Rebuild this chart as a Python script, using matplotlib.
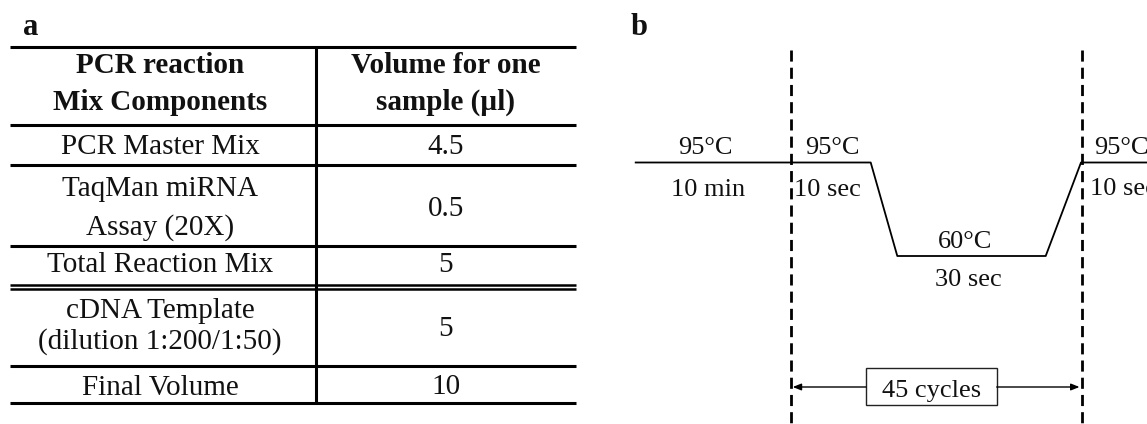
import matplotlib
matplotlib.use("Agg")
import matplotlib.pyplot as plt
from matplotlib.patches import Rectangle

plt.rcParams['font.family'] = ['Liberation Serif', 'DejaVu Serif']

# ---------------- data ----------------
# (a) qPCR reaction mix
header_left = ["PCR reaction", "Mix Components"]
header_right = ["Volume for one", "sample (\u00b5l)"]
row_labels = [
    ["PCR Master Mix"],
    ["TaqMan miRNA", "Assay (20X)"],
    ["Total Reaction Mix"],
    ["cDNA Template", "(dilution 1:200/1:50)"],
    ["Final Volume"],
]
row_volumes = ["4.5", "0.5", "5", "5", "10"]

# (b) thermal cycling protocol
step_temps = [95, 95, 60, 95]              # deg C
step_times = ["10 min", "10 sec", "30 sec", "10 sec"]
n_cycles = 45

# ---------------- figure ----------------
W, H = 1147, 424
fig = plt.figure(figsize=(W / 100, H / 100), dpi=100)
ax = fig.add_axes([0, 0, 1, 1])
ax.set_xlim(0, W)
ax.set_ylim(H, 0)
ax.axis("off")

INK = "#111111"
TFS = 21      # table font size
BFS = 19      # protocol font size

# ---- panel a: table ----
ax.text(23, 35, "a", fontsize=22, fontweight="bold", ha="left", va="baseline", color=INK)

x_left, x_div, x_right = 10, 316, 576
c1 = 160
c2 = 446
rule_lw = 2.2

rules = [46.7, 124.7, 165.0, 245.5, 366.2, 402.8]
for y in rules:
    ax.plot([x_left, x_right], [y, y], color="black", lw=rule_lw, solid_capstyle="butt")
# double rule after the reaction-mix block
for y in (284.6, 289.4):
    ax.plot([x_left, x_right], [y, y], color="black", lw=1.8, solid_capstyle="butt")
ax.plot([x_div, x_div], [rules[0], rules[-1]], color="black", lw=rule_lw, solid_capstyle="butt")

header_base = [73.0, 110.0]
for line_l, line_r, yb in zip(header_left, header_right, header_base):
    ax.text(c1, yb, line_l, fontsize=TFS, fontweight="bold", ha="center", va="baseline", color=INK)
    ax.text(c2, yb, line_r, fontsize=TFS, fontweight="bold", ha="center", va="baseline", color=INK)

label_base = [[154.0], [195.5, 234.5], [272.5], [318.5, 349.0], [395.0]]
value_base = [154.0, 215.5, 272.5, 336.0, 394.5]
for lines, ybs, val, yv in zip(row_labels, label_base, row_volumes, value_base):
    for line, yb in zip(lines, ybs):
        ax.text(c1, yb, line, fontsize=TFS, ha="center", va="baseline", color=INK)
    ax.text(c2, yv, val, fontsize=TFS, ha="center", va="baseline", color=INK)

# ---- panel b: thermal profile ----
ax.text(631, 35, "b", fontsize=22, fontweight="bold", ha="left", va="baseline", color=INK)

cyc_start, cyc_end = 790.7, 1081.5
for xd in (cyc_start, cyc_end):
    ax.plot([xd, xd], [50, H], color="black", lw=2.0, linestyle=(0, (4.0, 2.2)))

# temperature axis: 95 C sits at y=162.5 px, 60 C at y=256 px
px_per_deg = (256.0 - 162.5) / (95 - 60)
t_top = 95 + 162.5 / px_per_deg
t_bot = 95 - (H - 162.5) / px_per_deg
axb = fig.add_axes([600 / W, 0, 1 - 600 / W, 1])
axb.set_xlim(600, W)
axb.set_ylim(t_bot, t_top)
axb.axis("off")
axb.patch.set_alpha(0)

prof_x = [635.7, 870.7, 897.3, 1045.7, 1081.0, W + 5]
prof_t = [step_temps[0], step_temps[1], step_temps[2], step_temps[2], step_temps[3], step_temps[3]]
axb.plot(prof_x, prof_t, color="black", lw=1.3, clip_on=False)

def label(x, temp, text, dy, ha="center"):
    axb.annotate(text, xy=(x, temp), xytext=(0, dy), textcoords="offset pixels",
                 ha=ha, va="baseline", fontsize=BFS, color=INK, annotation_clip=False)

temp_x = [705, 832.5, 965.5, 1094]
time_x = [708, 827.5, 968.8, 1090]
temp_ha = ["center", "center", "center", "left"]
time_ha = ["center", "center", "center", "left"]
time_dy = [-33.5, -33.5, -30.0, -32.5]
for i, (t, d) in enumerate(zip(step_temps, step_times)):
    label(temp_x[i], t, f"{t}\u00b0C", 8.5, ha=temp_ha[i])
    label(time_x[i], t, d, time_dy[i], ha=time_ha[i])

# cycle bracket
box_l, box_r, box_t, box_b = 866, 996.7, 368.3, 405
ax.add_patch(Rectangle((box_l, box_t), box_r - box_l, box_b - box_t,
                       fill=True, facecolor="white", edgecolor="#222222", lw=1.0))
ax.text((box_l + box_r) / 2, 397.5, f"{n_cycles} cycles", fontsize=BFS,
        ha="center", va="baseline", color=INK)
arrow_y = 387.0
ax.annotate("", xy=(cyc_start + 2, arrow_y), xytext=(box_l, arrow_y),
            arrowprops=dict(arrowstyle="-|>,head_length=0.5,head_width=0.2",
                            color="black", lw=1.0, shrinkA=0, shrinkB=0))
ax.annotate("", xy=(cyc_end - 2, arrow_y), xytext=(box_r, arrow_y),
            arrowprops=dict(arrowstyle="-|>,head_length=0.5,head_width=0.2",
                            color="black", lw=1.0, shrinkA=0, shrinkB=0))

fig.savefig("out.png", dpi=100, facecolor="white")
